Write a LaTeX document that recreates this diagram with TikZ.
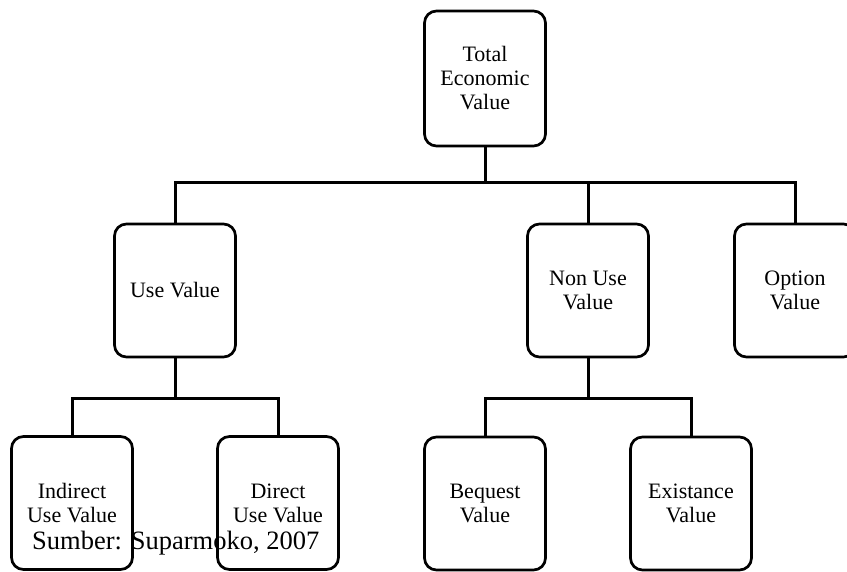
\documentclass[tikz,border=0pt]{standalone}
\usepackage{fontspec}
\setmainfont{Liberation Serif}
\begin{document}
\begin{tikzpicture}[x=1pt,y=-1pt,
  box/.style={draw, line width=2.7pt, rounded corners=12pt, minimum width=121pt, minimum height=133pt, align=center, font=\fontsize{22}{24}\selectfont, inner sep=0pt},
  conn/.style={line width=3pt}]
\useasboundingbox (0,0) rectangle (847,572);
\node[box, minimum height=135pt] (tev) at (485,78.5) {Total\\Economic\\Value};
\node[box] (use) at (175,290.5) {Use Value};
\node[box] (nonuse) at (588,290.5) {Non Use\\Value};
\node[box] (opt) at (795,290.5) {Option\\Value};
\node[box] (ind) at (72,503) {Indirect\\Use Value};
\node[box] (dir) at (278,503) {Direct\\Use Value};
\node[box] (beq) at (485,503.5) {Bequest\\Value};
\node[box] (exi) at (691,503.5) {Existance\\Value};
\coordinate (j1) at (485,183);
\coordinate (j2) at (175,398);
\coordinate (j3) at (588,398);
\draw[conn] (tev.south) -- (j1);
\draw[conn] (use.north) |- (j1) -| (opt.north);
\draw[conn] (nonuse.north) -- (nonuse.north |- j1);
\draw[conn] (use.south) -- (j2);
\draw[conn] (ind.north) |- (j2) -| (dir.north);
\draw[conn] (nonuse.south) -- (j3);
\draw[conn] (beq.north) |- (j3) -| (exi.north);
\node[anchor=base west, inner sep=0pt, font=\fontsize{26.5}{30}\selectfont] (src) at (32,549) {Sumber: Suparmoko, 2007};
\end{tikzpicture}
\end{document}
